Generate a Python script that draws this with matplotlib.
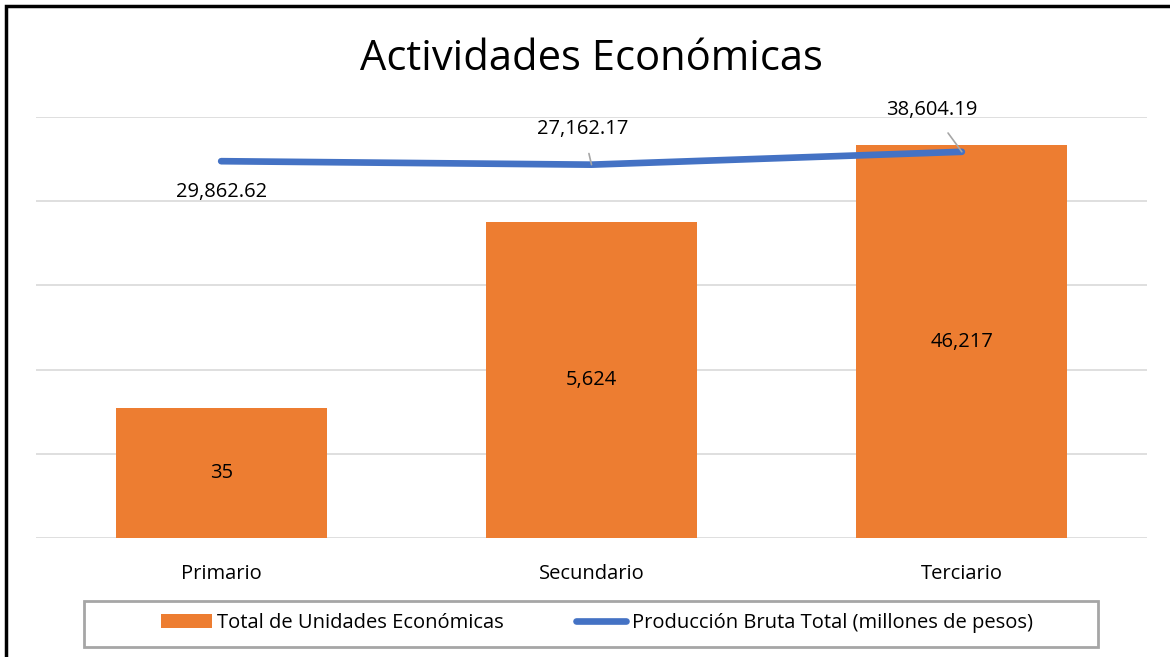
import matplotlib
matplotlib.use("Agg")
import matplotlib.pyplot as plt
from matplotlib.patches import Patch, Rectangle
from matplotlib.lines import Line2D

categories = ["Primario", "Secundario", "Terciario"]
unidades = [35, 5624, 46217]
unidades_labels = ["35", "5,624", "46,217"]
produccion = [29862.62, 27162.17, 38604.19]
produccion_labels = ["29,862.62", "27,162.17", "38,604.19"]

BAR = "#ED7D31"
LINE = "#4472C4"
FONT = "Open Sans"
FS = 14.5
plt.rcParams['font.family'] = [FONT, 'DejaVu Sans']

W, H = 1170, 657
fig = plt.figure(figsize=(W / 100, H / 100), dpi=100)
ax = fig.add_axes([36 / W, 1 - 538 / H, (1147 - 36) / W, (538 - 117) / H])

x = list(range(len(categories)))
ax.bar(x, unidades, width=0.57, color=BAR, zorder=2)
ax.plot(x, produccion, color=LINE, linewidth=4.8, solid_capstyle='round', zorder=3)

ax.set_yscale('log')
ax.set_ylim(1, 100000)
ax.set_xlim(-0.5, 2.5)
ax.set_yticks([1, 10, 100, 1000, 10000, 100000])
ax.yaxis.set_minor_locator(matplotlib.ticker.NullLocator())
ax.grid(axis='y', color='#D9D9D9', linewidth=1.2, zorder=0)
ax.tick_params(axis='y', left=False, labelleft=False)
ax.tick_params(axis='x', bottom=False, labelsize=FS, pad=15)
ax.set_xticks(x)
ax.set_xticklabels(categories)
for s in ax.spines.values():
    s.set_visible(False)

# bar labels (middle of bar in log space)
for i, (v, lab) in enumerate(zip(unidades, unidades_labels)):
    ax.text(i, v ** 0.5, lab, ha='center', va='center', fontsize=FS, color='black', zorder=4)

# line labels
ax.annotate(produccion_labels[0], xy=(0, produccion[0]), xytext=(0, -22),
            textcoords='offset points', ha='center', va='center', fontsize=FS)
ax.annotate(produccion_labels[1], xy=(1, produccion[1]), xytext=(-6, 26),
            textcoords='offset points', ha='center', va='center', fontsize=FS,
            arrowprops=dict(arrowstyle='-', color='#A6A6A6', lw=1.2, shrinkA=9, shrinkB=0))
ax.annotate(produccion_labels[2], xy=(2, produccion[2]), xytext=(-22, 30),
            textcoords='offset points', ha='center', va='center', fontsize=FS,
            arrowprops=dict(arrowstyle='-', color='#A6A6A6', lw=1.2, shrinkA=9, shrinkB=0))

fig.text(591 / W, 1 - 59 / H, "Actividades Económicas", ha='center', va='center', fontsize=30)

handles = [Patch(facecolor=BAR, edgecolor='none'),
           Line2D([0], [0], color=LINE, linewidth=4.8, solid_capstyle='round')]
leg = fig.legend(handles, ["Total de Unidades Económicas", "Producción Bruta Total (millones de pesos)"],
                 loc='center', bbox_to_anchor=(597 / W, 1 - 623 / H), ncol=2, fontsize=FS,
                 frameon=False, handlelength=2.5, handletextpad=0.25, columnspacing=3.6)

# legend box
fig.patches.append(Rectangle((84 / W, 1 - 647 / H), (1098 - 84) / W, (647 - 601) / H,
                             transform=fig.transFigure, fill=False, edgecolor='#A6A6A6', linewidth=2))
# outer border
fig.patches.append(Rectangle((6 / W, -0.1), (W + 20) / W, 1.1 - 6 / H,
                             transform=fig.transFigure, fill=False, edgecolor='black', linewidth=2.5, clip_on=False))

fig.savefig("out.png", dpi=100)
